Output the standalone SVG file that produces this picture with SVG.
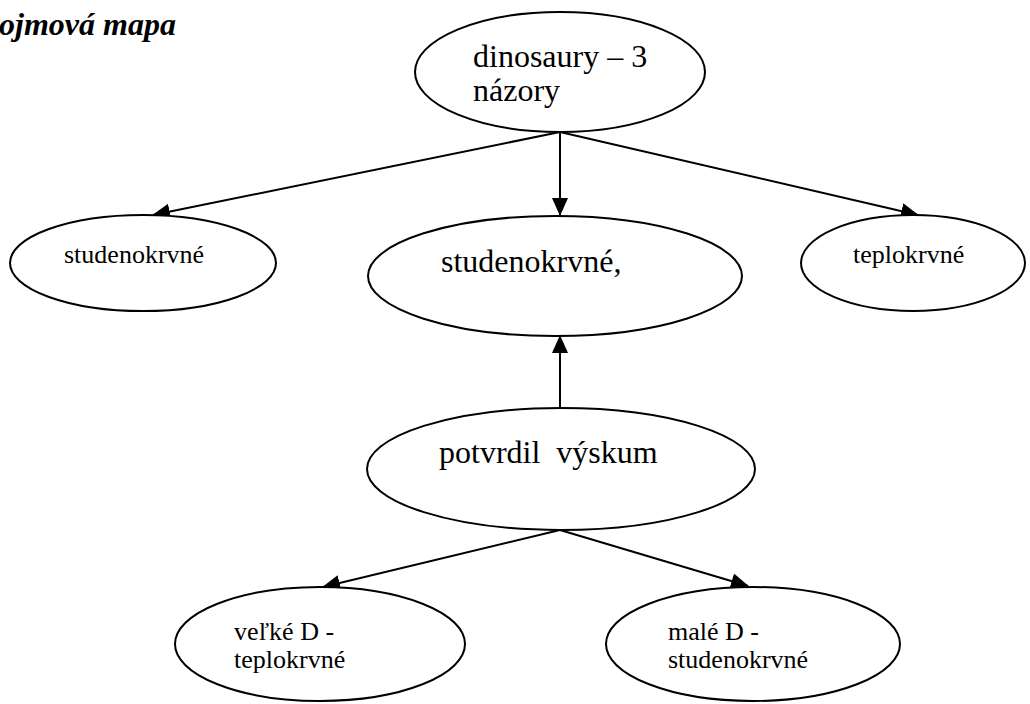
<svg xmlns="http://www.w3.org/2000/svg" width="1030" height="704" viewBox="0 0 1030 704">
<defs>
<marker id="arr" markerUnits="userSpaceOnUse" markerWidth="18" markerHeight="18" viewBox="0 0 18 16" refX="17" refY="8" orient="auto">
<path d="M0,0 L18,8 L0,16 Z" fill="#000"/>
</marker>
</defs>
<style>
.n{fill:#fff;stroke:#000;stroke-width:2}
.t{font-family:"Liberation Serif","Times New Roman",serif;fill:#000;white-space:pre}
.big{font-size:32px}
.sm{font-size:26px}
.e{stroke:#000;stroke-width:2;fill:none;marker-end:url(#arr)}
</style>
<rect width="1030" height="704" fill="#fff"/>
<text class="t" x="-1" y="35" font-size="32" font-weight="bold" font-style="italic">ojmová mapa</text>
<g id="connectors">
<line class="e" x1="560" y1="132" x2="153" y2="215"/>
<line class="e" x1="560" y1="132" x2="560" y2="215"/>
<line class="e" x1="560" y1="132" x2="918" y2="215"/>
<line class="e" x1="560" y1="409" x2="560" y2="336"/>
<line class="e" x1="560" y1="530" x2="323" y2="587"/>
<line class="e" x1="560" y1="530" x2="748" y2="586"/>
</g>
<g id="n_dino">
<ellipse class="n" cx="560" cy="72" rx="145" ry="60"/>
<text class="t big" x="473" y="67">dinosaury – 3</text>
<text class="t big" x="473" y="101">názory</text>
</g>
<g id="n_stud1">
<ellipse class="n" cx="143" cy="263" rx="133" ry="48"/>
<text class="t sm" x="64" y="263">studenokrvné</text>
</g>
<g id="n_stud2">
<ellipse class="n" cx="555" cy="276" rx="187" ry="60"/>
<text class="t big" x="441" y="272">studenokrvné,</text>
</g>
<g id="n_tepl">
<ellipse class="n" cx="913" cy="263" rx="112" ry="48"/>
<text class="t sm" x="853" y="263">teplokrvné</text>
</g>
<g id="n_potv">
<ellipse class="n" cx="561" cy="469" rx="194" ry="61"/>
<text class="t big" x="439" y="463">potvrdil  výskum</text>
</g>
<g id="n_velke">
<ellipse class="n" cx="320" cy="644" rx="145" ry="57"/>
<text class="t sm" x="234" y="640">veľké D -</text>
<text class="t sm" x="234" y="668">teplokrvné</text>
</g>
<g id="n_male">
<ellipse class="n" cx="753" cy="644" rx="147" ry="57"/>
<text class="t sm" x="668" y="640">malé D -</text>
<text class="t sm" x="668" y="668">studenokrvné</text>
</g>
</svg>
